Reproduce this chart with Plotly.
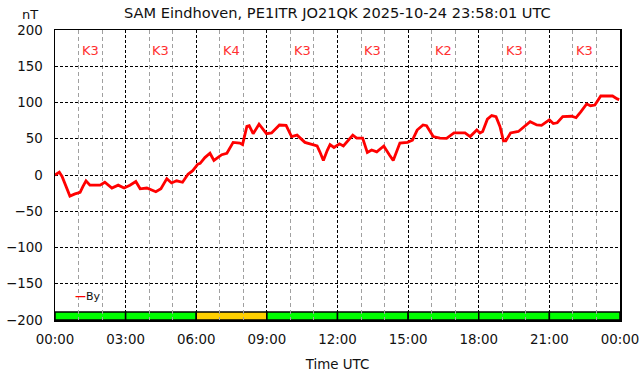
import plotly.graph_objects as go
import pandas as pd

# ---- data ----
DAY = "2025-10-24"
times = ["00:00","00:11","00:18","00:25","00:38","00:51","01:04","01:11","01:19","01:29",
         "01:55","02:07","02:25","02:41","02:56","03:11","03:26","03:37","03:54","04:17",
         "04:30","04:45","04:57","05:10","05:25","05:39","05:51","06:04","06:10","06:22",
         "06:35","06:45","07:05","07:18","07:34","07:51","07:58","08:09","08:15","08:25",
         "08:40","08:59","09:12","09:32","09:49","10:03","10:17","10:37","10:54","11:08",
         "11:15","11:24","11:34","11:41","11:51","12:05","12:15","12:39","12:49","13:04",
         "13:16","13:27","13:40","13:58","14:12","14:22","14:39","14:58","15:11","15:23",
         "15:38","15:47","16:04","16:21","16:38","16:57","17:25","17:38","17:55","18:03",
         "18:10","18:22","18:33","18:44","18:54","19:03","19:09","19:21","19:41","19:58",
         "20:11","20:28","20:40","21:00","21:10","21:20","21:34","21:57","22:08","22:20",
         "22:35","22:45","22:56","23:11","23:26","23:41","23:53","23:58"]
by_nT = [0, 4, -2, -12, -29, -26, -24, -16, -8, -14,
         -14, -10, -18, -14, -18, -14, -9, -19, -18, -23,
         -19, -5, -11, -8, -10, 1, 6, 15, 16, 24,
         30, 20, 28, 30, 45, 44, 42, 67, 68, 57,
         70, 57, 58, 69, 68.5, 53, 55, 45, 42, 40,
         32, 20, 34, 42, 38, 43, 40, 55, 51, 51,
         31, 34.5, 32, 40, 28, 20, 44, 45, 48, 62,
         69, 68, 53, 51, 50.6, 58, 58, 53, 62, 58,
         60, 77, 82, 80.5, 67, 47, 47, 58, 60, 67,
         73.5, 69, 68.5, 76, 71, 72, 80.5, 81, 79, 87,
         98, 95.6, 96.5, 109, 109, 109, 105, 104]

kp_block_start = ["00:00","03:00","06:00","09:00","12:00","15:00","18:00","21:00"]
kp_values = [3, 3, 4, 3, 3, 2, 3, 3]

title = "SAM Eindhoven, PE1ITR JO21QK 2025-10-24 23:58:01 UTC"

# ---- build ----
t = pd.to_datetime([f"{DAY} {s}" for s in times])
kstart = pd.to_datetime([f"{DAY} {s}" for s in kp_block_start])
block = pd.Timedelta(hours=3)
x0 = pd.Timestamp(f"{DAY} 00:00")
x1 = x0 + pd.Timedelta(hours=24)

FONT = "DejaVu Sans"
fig = go.Figure()
fig.add_trace(go.Scatter(x=t, y=by_nT, mode="lines", name="By",
                         line=dict(color="#ff0000", width=2.8), showlegend=False))

shapes = []
annotations = []
for s, k in zip(kstart, kp_values):
    color = "#00ff00" if k < 4 else "#ffd000"
    shapes.append(dict(type="rect", xref="x", yref="y", x0=s, x1=s + block,
                       y0=-200, y1=-189, fillcolor=color,
                       line=dict(color="black", width=1.5), layer="below"))
    annotations.append(dict(x=s + block / 2, y=172, xref="x", yref="y",
                            text=f"K{k}", showarrow=False,
                            font=dict(family=FONT, size=13, color="#ff3030")))

annotations.append(dict(x=0.5, y=1, xref="paper", yref="paper", yshift=18,
                        yanchor="middle", text=title, showarrow=False, xanchor="center",
                        font=dict(family=FONT, size=14.6, color="#111")))
annotations.append(dict(x=-0.044, y=1, xref="paper", yref="paper", yshift=16,
                        yanchor="middle", text="nT", showarrow=False, xanchor="center",
                        font=dict(family=FONT, size=13, color="#111")))
annotations.append(dict(x=0.031, y=-167, xref="paper", yref="y",
                        text="<span style='color:#ff0000'><b>—</b></span>By",
                        showarrow=False, xanchor="left",
                        font=dict(family=FONT, size=11, color="#111")))

fig.update_layout(
    width=642, height=376,
    margin=dict(l=55, r=22, t=30, b=56, autoexpand=False),
    paper_bgcolor="white", plot_bgcolor="rgba(0,0,0,0)",
    font=dict(family=FONT, size=13.4, color="#111"),
    shapes=shapes, annotations=annotations, showlegend=False,
)
fig.update_xaxes(
    range=[x0, x1], type="date", tickformat="%H:%M", dtick=3 * 3600 * 1000,
    tick0=x0, showgrid=True, gridcolor="black", griddash="3px,2px", gridwidth=1,
    minor=dict(dtick=3600 * 1000, showgrid=True, gridcolor="#a0a0a0",
               griddash="4px,3px", gridwidth=1),
    showline=True, linecolor="black", linewidth=1.5, mirror=True,
    zeroline=False, ticks="", ticklabelstandoff=6, automargin=False,
    title=dict(text="Time UTC", font=dict(family=FONT, size=13.4), standoff=14),
)
fig.update_yaxes(
    range=[-200, 200], dtick=50, showgrid=True, gridcolor="black",
    griddash="3px,2px", gridwidth=1, automargin=False,
    showline=True, linecolor="black", linewidth=1.5, mirror=True,
    zeroline=False, ticks="", ticklabelstandoff=8,
)

fig.write_html("out.html", config={"displayModeBar": False, "staticPlot": True},
               post_script="document.body.style.margin='0';document.body.style.overflow='hidden';")
